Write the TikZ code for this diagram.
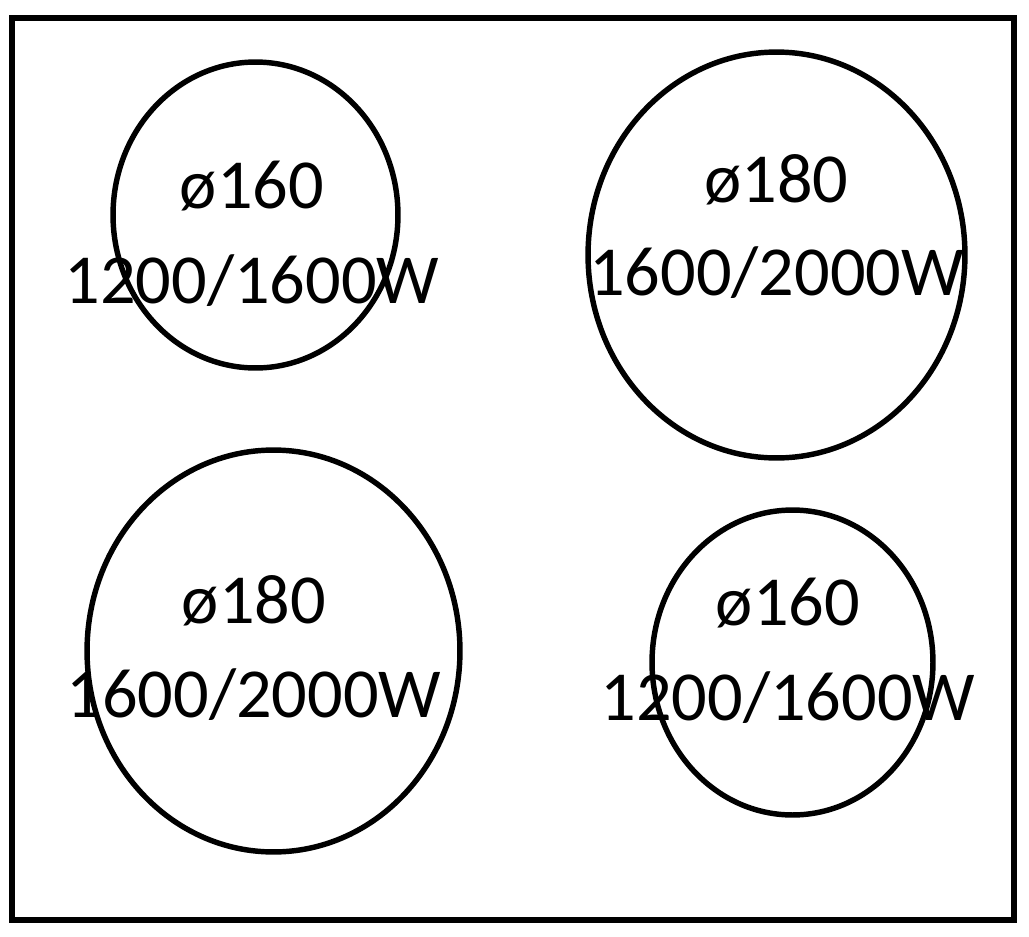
\documentclass[tikz,border=0pt]{standalone}
\usepackage{fontspec}
\setmainfont{Carlito}
\usetikzlibrary{shapes.geometric}
\begin{document}
\begin{tikzpicture}[
	x=0.02cm, y=-0.02cm,
	plate/.style={draw=black, line width=3.6pt},
	burner/.style={ellipse, draw=black, line width=3.1pt, inner sep=0pt, outer sep=0pt}, % zones of the hob
	rating/.style={anchor=base, inner sep=0pt, font=\fontsize{40}{48}\selectfont},
]
\useasboundingbox (0,0) rectangle (1029,937);
\draw[plate] (12,18) rectangle (1014,920);

% top row
\node[burner, minimum width=5.70cm, minimum height=6.12cm] (tl) at (255.5,215) {};
\node[rating] (tl d) at (252,208) {ø160};
\node[rating] (tl p) at (252,303) {1200/1600W};

\node[burner, minimum width=7.54cm, minimum height=8.12cm] (tr) at (776.5,255) {};
\node[rating] (tr d) at (776.5,202) {ø180};
\node[rating] (tr p) at (776.5,295) {1600/2000W};

% bottom row
\node[burner, minimum width=7.46cm, minimum height=8.04cm] (bl) at (273.5,651) {};
\node[rating] (bl d) at (254,623) {ø180};
\node[rating] (bl p) at (254,717) {1600/2000W};

\node[burner, minimum width=5.62cm, minimum height=6.10cm] (br) at (792.5,662.5) {};
\node[rating] (br d) at (788,625) {ø160};
\node[rating] (br p) at (788,720) {1200/1600W};
\end{tikzpicture}
\end{document}
